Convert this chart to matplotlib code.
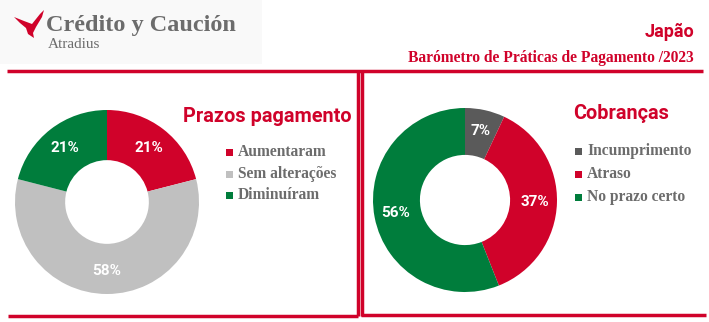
import numpy as np
import matplotlib
matplotlib.use("Agg")
import matplotlib.pyplot as plt
from matplotlib.patches import Polygon, Rectangle

# ---- data ----
prazos_labels = ["Aumentaram", "Sem alterações", "Diminuíram"]
prazos_values = [21, 58, 21]
cobr_labels = ["Incumprimento", "Atraso", "No prazo certo"]
cobr_values = [7, 37, 56]

RED = "#d0022a"
LGRAY = "#c0c0c0"
DGRAY = "#5a5a5a"
GREEN = "#007d3c"
TXT_GRAY = "#6c6c6c"

prazos_colors = [RED, LGRAY, GREEN]
cobr_colors = [DGRAY, RED, GREEN]

SANS_B = ["Roboto", "DejaVu Sans"]
SERIF = ["Liberation Serif", "DejaVu Serif"]

W, H = 709, 322
fig = plt.figure(figsize=(W / 100, H / 100), dpi=100)
fig.patch.set_facecolor("white")

# overlay in pixel coordinates (y downward)
ov = fig.add_axes([0, 0, 1, 1])
ov.set_xlim(0, W)
ov.set_ylim(H, 0)
ov.axis("off")

# header panel
ov.add_patch(Rectangle((0, 0), 262, 64, facecolor="#f9f9f9", edgecolor="none"))

# logo mark
logo = [(14, 17), (24, 21), (32, 24), (40, 14), (44, 10), (42, 17), (36, 27),
        (33, 33), (34, 38), (28, 34), (26, 28), (20, 23)]
ov.add_patch(Polygon(logo, closed=True, facecolor=RED, edgecolor="none"))
ov.text(46, 25, "Crédito y Caución", family=SERIF, weight="bold", fontsize=17.5,
        color=TXT_GRAY, va="center", ha="left")
ov.text(48, 44, "Atradius", family=SERIF, fontsize=11, color=TXT_GRAY,
        va="center", ha="left")

ov.text(694, 32, "Japão", family=SANS_B, weight="bold", fontsize=13, color=RED,
        va="center", ha="right")
ov.text(694, 58, "Barómetro de Práticas de Pagamento /2023", family=SERIF,
        weight="bold", fontsize=11.2, color=RED, va="center", ha="right")

# frame lines
lw = 2.5
ov.plot([7, 703], [71, 71], color=RED, lw=lw, solid_capstyle="butt")
ov.plot([357.5, 357.5], [70, 316], color=RED, lw=lw, solid_capstyle="butt")
ov.plot([8, 358], [316, 316], color=RED, lw=lw, solid_capstyle="butt")
ov.plot([362, 362], [70, 316], color=RED, lw=lw, solid_capstyle="butt")
ov.plot([361, 706], [315, 315], color=RED, lw=lw, solid_capstyle="butt")


def donut(cx, cy, r, inner, values, colors):
    ax = fig.add_axes([(cx - r) / W, (H - cy - r) / H, 2 * r / W, 2 * r / H])
    ax.pie(values, colors=colors, startangle=90, counterclock=False,
           wedgeprops=dict(width=1 - inner, edgecolor="none"))
    ax.set_xlim(-1, 1)
    ax.set_ylim(-1, 1)
    ax.axis("off")
    total = sum(values)
    cum = 0
    rr = (1 + inner) / 2 + 0.02
    for v in values:
        mid = np.deg2rad(90 - (cum + v / 2) / total * 360)
        cum += v
        ax.text(rr * np.cos(mid), rr * np.sin(mid), f"{v}%", ha="center",
                va="center", color="white", weight="bold", fontsize=11,
                family=SANS_B)
    return ax


donut(107, 202, 92, 0.455, prazos_values, prazos_colors)
donut(465, 200, 92, 0.49, cobr_values, cobr_colors)


def legend(x_sq, x_txt, ys, title, tx, ty, labels, colors):
    ov.text(tx, ty, title, family=SANS_B, weight="bold", fontsize=14.3,
            color=RED, va="center", ha="left")
    for y, lab, c in zip(ys, labels, colors):
        ov.add_patch(Rectangle((x_sq - 3.5, y - 3.5), 7, 7, facecolor=c,
                               edgecolor="none"))
        ov.text(x_txt, y, lab, family=SERIF, weight="bold", fontsize=11.2,
                color=TXT_GRAY, va="center", ha="left")


legend(229, 238, [152, 174, 195], "Prazos pagamento", 183, 116,
       prazos_labels, prazos_colors)
legend(578, 587, [151, 174, 197], "Cobranças", 573, 113,
       cobr_labels, cobr_colors)

fig.savefig("out.png", dpi=100, facecolor="white")
